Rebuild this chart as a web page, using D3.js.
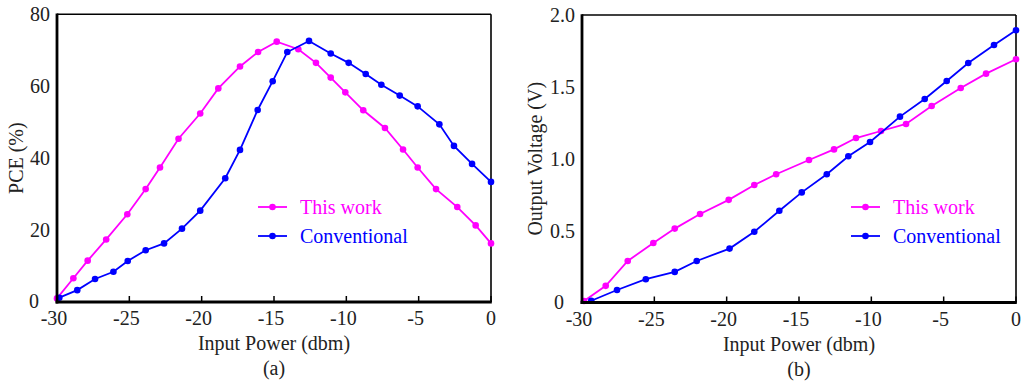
<!DOCTYPE html>
<html>
<head>
<meta charset="utf-8">
<script src="https://cdn.jsdelivr.net/npm/d3@7/dist/d3.min.js"></script>
<style>
  html, body { margin: 0; padding: 0; background: #fff; }
  svg { display: block; }
  text { font-family: "Liberation Serif", "Times New Roman", serif; fill: #222; }
</style>
</head>
<body>
<svg id="chart" width="1024" height="384"></svg>
<script>
// ---- Data ----
const xTicks = [-30, -25, -20, -15, -10, -5, 0];
const pceTicks = [0, 20, 40, 60, 80];
const voltTicks = [0, 0.5, 1.0, 1.5, 2.0];
const seriesNames = ["This work", "Conventional"];

const pceThisX = [-30, -28.87, -27.88, -26.6, -25.14, -23.87, -22.88, -21.6, -20.1, -18.85, -17.35, -16.1, -14.81, -13.32, -12.1, -11.08, -10.07, -8.83, -7.33, -6.08, -5.07, -3.8, -2.33, -1.06, 0];
const pceThis  = [1, 6.6, 11.5, 17.4, 24.4, 31.4, 37.4, 45.4, 52.4, 59.4, 65.5, 69.5, 72.4, 70.3, 66.5, 62.4, 58.3, 53.3, 48.4, 42.4, 37.4, 31.4, 26.4, 21.3, 16.3];
const pceConvX = [-29.84, -28.6, -27.37, -26.1, -25.11, -23.87, -22.6, -21.36, -20.1, -18.37, -17.35, -16.13, -15.09, -14.08, -12.58, -11.08, -9.84, -8.66, -7.58, -6.31, -5.07, -3.57, -2.56, -1.31, 0];
const pceConv  = [1.2, 3.3, 6.4, 8.4, 11.4, 14.4, 16.3, 20.4, 25.4, 34.4, 42.3, 53.4, 61.4, 69.5, 72.6, 69.1, 66.5, 63.4, 60.4, 57.4, 54.4, 49.4, 43.4, 38.4, 33.4];

const voltThisX = [-29.86, -28.36, -26.84, -25.07, -23.59, -21.84, -19.86, -18.09, -16.58, -14.31, -12.58, -11.06, -9.33, -7.6, -5.83, -3.82, -2.07, 0];
const voltThis  = [0.01, 0.116, 0.289, 0.414, 0.514, 0.616, 0.714, 0.817, 0.892, 0.991, 1.065, 1.144, 1.193, 1.242, 1.367, 1.492, 1.592, 1.692];
const voltConvX = [-29.36, -27.58, -25.59, -23.59, -22.07, -19.8, -18.09, -16.36, -14.81, -13.08, -11.59, -10.09, -8.02, -6.31, -4.79, -3.3, -1.52, 0];
const voltConv  = [0.012, 0.087, 0.162, 0.213, 0.289, 0.375, 0.492, 0.638, 0.766, 0.892, 1.017, 1.117, 1.293, 1.416, 1.541, 1.666, 1.791, 1.894];

const colors = ["#ff00ff", "#0000ff"];

const svg = d3.select("#chart");

function panel(opts) {
  const x = d3.scaleLinear().domain([-30, 0]).range([opts.x0, opts.x1]);
  const y = d3.scaleLinear().domain(opts.yDomain).range([opts.y0, opts.y1]);
  const g = svg.append("g");

  // x ticks (inward)
  g.selectAll(".xt").data(xTicks).enter().append("line")
    .attr("x1", d => x(d)).attr("x2", d => x(d))
    .attr("y1", opts.y0).attr("y2", opts.y0 - 6)
    .attr("stroke", "#000").attr("stroke-width", 1.5);

  // frame: top/right thinner, left/bottom thicker
  g.append("line").attr("x1", opts.x0).attr("x2", opts.x1).attr("y1", opts.y1).attr("y2", opts.y1)
    .attr("stroke", "#000").attr("stroke-width", 1.6);
  g.append("line").attr("x1", opts.x1).attr("x2", opts.x1).attr("y1", opts.y1).attr("y2", opts.y0)
    .attr("stroke", "#000").attr("stroke-width", 1.6);

  // series
  opts.series.forEach((s, i) => {
    const pts = s.xs.map((xv, k) => [xv, s.ys[k]]);
    const line = d3.line().x(d => x(d[0])).y(d => y(d[1]));
    g.append("path").attr("d", line(pts)).attr("fill", "none")
      .attr("stroke", colors[i]).attr("stroke-width", 1.8);
    g.selectAll(".m" + i).data(pts).enter().append("circle")
      .attr("cx", d => x(d[0])).attr("cy", d => y(d[1])).attr("r", 3.3)
      .attr("fill", colors[i]);
  });

  g.append("line").attr("x1", opts.x0).attr("x2", opts.x0).attr("y1", opts.y1 - 0.8).attr("y2", opts.y0 + 1.4)
    .attr("stroke", "#000").attr("stroke-width", 2.8);
  g.append("line").attr("x1", opts.x0 - 1.4).attr("x2", opts.x1 + 0.8).attr("y1", opts.y0).attr("y2", opts.y0)
    .attr("stroke", "#000").attr("stroke-width", 2.8);

  // x tick labels
  g.selectAll(".xl").data(xTicks).enter().append("text")
    .attr("x", d => x(d) + (d < 0 ? -3 : 0)).attr("y", opts.y0 + 23)
    .attr("text-anchor", "middle").attr("font-size", 20)
    .text(d => d);

  // y tick labels
  g.selectAll(".yl").data(opts.yTicks).enter().append("text")
    .attr("x", d => d === 0 ? opts.x0 - 18 : opts.x0 - 7)
    .attr("y", d => d === 0 ? y(d) + 6 : y(d) + 7)
    .attr("text-anchor", "end").attr("font-size", 20)
    .text(opts.fmt);

  // axis titles
  const cx = (opts.x0 + opts.x1) / 2;
  g.append("text").attr("x", cx).attr("y", opts.y0 + 48)
    .attr("text-anchor", "middle").attr("font-size", 20).text("Input Power (dbm)");
  g.append("text").attr("x", cx).attr("y", opts.y0 + 73)
    .attr("text-anchor", "middle").attr("font-size", 20).text(opts.sub);
  g.append("text")
    .attr("transform", `translate(${opts.yTitleX},${(opts.y0 + opts.y1) / 2}) rotate(-90)`)
    .attr("text-anchor", "middle").attr("font-size", 20).text(opts.yTitle);

  // legend
  seriesNames.forEach((name, i) => {
    const ly = opts.legY + i * 29;
    g.append("line").attr("x1", opts.legX).attr("x2", opts.legX + 29)
      .attr("y1", ly).attr("y2", ly).attr("stroke", colors[i]).attr("stroke-width", 1.8);
    g.append("circle").attr("cx", opts.legX + 14.5).attr("cy", ly).attr("r", 3.3).attr("fill", colors[i]);
    g.append("text").attr("x", opts.legX + 42).attr("y", ly + 6.5)
      .attr("font-size", 20).style("fill", colors[i]).text(name);
  });
}

panel({
  x0: 57, x1: 491, y0: 302, y1: 14.3,
  yDomain: [0, 80], yTicks: pceTicks, fmt: d => d,
  yTitle: "PCE (%)", yTitleX: 23, sub: "(a)",
  series: [{ xs: pceThisX, ys: pceThis }, { xs: pceConvX, ys: pceConv }],
  legX: 258, legY: 207
});

panel({
  x0: 582, x1: 1016, y0: 302.5, y1: 15,
  yDomain: [0, 2], yTicks: voltTicks, fmt: d => d === 0 ? "0" : d3.format(".1f")(d),
  yTitle: "Output Voltage (V)", yTitleX: 542, sub: "(b)",
  series: [{ xs: voltThisX, ys: voltThis }, { xs: voltConvX, ys: voltConv }],
  legX: 851, legY: 207
});
</script>
</body>
</html>
